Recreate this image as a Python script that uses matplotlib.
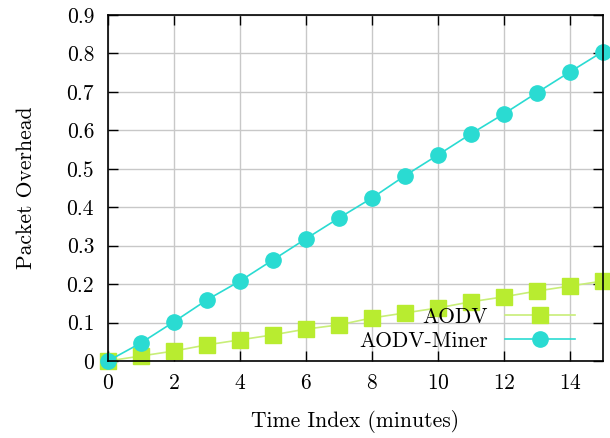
import numpy as np
import matplotlib
matplotlib.use('Agg')
import matplotlib.pyplot as plt
from matplotlib.ticker import FuncFormatter

plt.rcParams['font.family'] = 'serif'
plt.rcParams['font.serif'] = ['cmr10', 'DejaVu Serif']
plt.rcParams['mathtext.fontset'] = 'cm'
plt.rcParams['axes.formatter.use_mathtext'] = True

# Data
time_idx = list(range(16))
aodv = [0.0, 0.013, 0.026, 0.042, 0.055, 0.068, 0.083, 0.094, 0.112, 0.125,
        0.138, 0.154, 0.167, 0.182, 0.195, 0.208]
aodv_miner = [0.0, 0.047, 0.102, 0.159, 0.208, 0.263, 0.318, 0.372, 0.424, 0.482,
              0.536, 0.591, 0.643, 0.698, 0.752, 0.805]

fs = 15.5

fig = plt.figure(figsize=(6.1, 4.38), dpi=100)
ax = fig.add_axes([0.177, 0.1758, 0.8115, 0.79])

ax.plot(time_idx, aodv, color='#c8ee78', lw=1.2, marker='s', ms=12,
        mfc='#b8ec30', mec='#b8ec30', label='AODV', clip_on=False)
ax.plot(time_idx, aodv_miner, color='#2adbd2', lw=1.2, marker='o', ms=11,
        mfc='#2adbd2', mec='#2adbd2', label='AODV-Miner', clip_on=False)

ax.set_xlim(0, 15)
ax.set_ylim(0, 0.9)
ax.set_xticks(range(0, 15, 2))
ax.set_yticks(np.arange(0, 0.91, 0.1))
ax.yaxis.set_major_formatter(FuncFormatter(lambda v, p: '%g' % round(v, 2)))

ax.grid(True, color='#c8c8c8', lw=1)
ax.set_axisbelow(True)
ax.tick_params(direction='in', length=7, width=1, top=True, right=True,
               labelsize=fs)
ax.tick_params(axis='y', pad=10)
ax.tick_params(axis='x', pad=9)
for s in ax.spines.values():
    s.set_linewidth(1.2)

ax.set_xlabel('Time Index (minutes)', fontsize=fs, labelpad=12)
ax.set_ylabel('Packet Overhead', fontsize=fs, labelpad=22)

ax.legend(loc='lower right', frameon=False, markerfirst=False, fontsize=fs,
          handlelength=3.25, handletextpad=0.8, labelspacing=0.2,
          borderpad=0, borderaxespad=0, bbox_to_anchor=(0.943, 0.03))

fig.savefig('out.png', dpi=100)
